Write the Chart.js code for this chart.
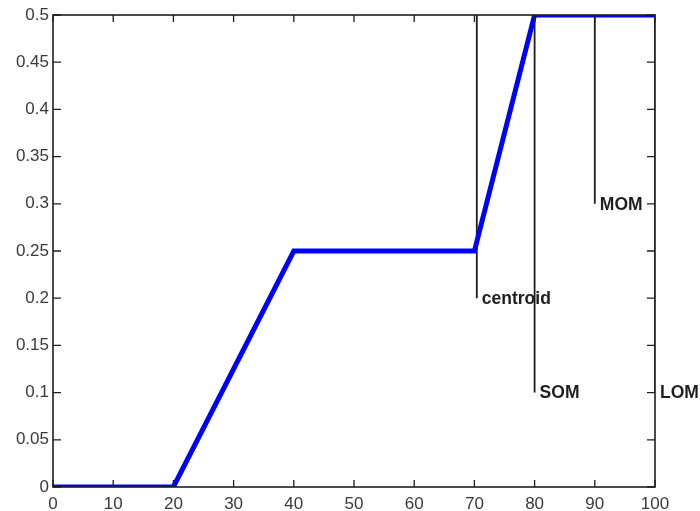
<!DOCTYPE html>
<html lang="en">
<head>
  <meta charset="UTF-8" />
  <script src="https://cdn.jsdelivr.net/npm/chart.js"></script>
  <title>Defuzzification</title>
  <style>
    html, body { margin: 0; padding: 0; background: #fff; }
    #wrap { width: 700px; height: 511px; }
  </style>
</head>
<body>
  <div id="wrap"><canvas id="grafico" width="700" height="511"></canvas></div>

  <script>
    // membership curve
    const xs = [0, 20, 40, 70, 80, 100]
    const ys = [0, 0, 0.25, 0.25, 0.5, 0.5]

    // defuzzified values, drawn as drop lines from the top
    const markerNames = ['centroid', 'SOM', 'MOM', 'LOM']
    const markerX = [70.4, 80, 90, 100]
    const markerEnd = [0.2, 0.1, 0.3, 0.1]
    const markerTop = 0.5

    const xTicks = [0, 10, 20, 30, 40, 50, 60, 70, 80, 90, 100]
    const yTicks = [0, 0.05, 0.1, 0.15, 0.2, 0.25, 0.3, 0.35, 0.4, 0.45, 0.5]

    const ink = '#1e1e1e'

    const datasets = [{
      data: xs.map((x, i) => ({ x, y: ys[i] })),
      borderColor: '#0000ff',
      borderWidth: 5,
      pointRadius: 0,
      clip: 0
    }]
    markerX.forEach((x, i) => {
      datasets.push({
        data: [{ x, y: markerTop }, { x, y: markerEnd[i] }],
        borderColor: ink,
        borderWidth: 1.8,
        pointRadius: 0,
        clip: 0
      })
    })

    // matlab style box with inward ticks, plus text labels
    const boxPlugin = {
      id: 'box',
      afterDatasetsDraw(chart) {
        const { ctx, chartArea: a, scales: { x, y } } = chart
        ctx.save()
        ctx.strokeStyle = ink
        ctx.lineWidth = 1.6
        ctx.strokeRect(a.left, a.top, a.right - a.left, a.bottom - a.top)
        ctx.lineWidth = 1.3
        ctx.beginPath()
        xTicks.forEach(v => {
          const px = x.getPixelForValue(v)
          ctx.moveTo(px, a.bottom); ctx.lineTo(px, a.bottom - 7)
          ctx.moveTo(px, a.top); ctx.lineTo(px, a.top + 7)
        })
        yTicks.forEach(v => {
          const py = y.getPixelForValue(v)
          ctx.moveTo(a.left, py); ctx.lineTo(a.left + 8, py)
          ctx.moveTo(a.right, py); ctx.lineTo(a.right - 8, py)
        })
        ctx.stroke()

        ctx.fillStyle = ink
        ctx.font = 'bold 17.5px "Liberation Sans", Arial, sans-serif'
        ctx.textAlign = 'left'
        ctx.textBaseline = 'middle'
        markerNames.forEach((t, i) => {
          ctx.fillText(t, x.getPixelForValue(markerX[i]) + 5, y.getPixelForValue(markerEnd[i]) + 1)
        })
        ctx.restore()
      }
    }

    const tickFont = { family: '"Liberation Sans", Arial, sans-serif', size: 17 }

    new Chart(document.getElementById('grafico'), {
      type: 'line',
      data: { datasets },
      options: {
        responsive: false,
        animation: false,
        layout: { padding: { left: 0, top: 15, right: 45, bottom: 0 } },
        plugins: { legend: { display: false }, tooltip: { enabled: false } },
        scales: {
          x: {
            type: 'linear', min: 0, max: 100,
            afterBuildTicks: s => { s.ticks = xTicks.map(value => ({ value })) },
            afterFit: s => { s.height = 24 },
            grid: { display: false, drawTicks: false },
            border: { display: false },
            ticks: { font: tickFont, color: '#3a3a3a', padding: 7, maxRotation: 0, autoSkip: false, callback: v => String(v) }
          },
          y: {
            type: 'linear', min: 0, max: 0.5,
            afterBuildTicks: s => { s.ticks = yTicks.map(value => ({ value })) },
            afterFit: s => { s.width = 53 },
            grid: { display: false, drawTicks: false },
            border: { display: false },
            ticks: { font: tickFont, color: '#3a3a3a', padding: 4, autoSkip: false, callback: v => String(Number(v.toFixed(2))) }
          }
        }
      },
      plugins: [boxPlugin]
    })
  </script>
</body>
</html>
